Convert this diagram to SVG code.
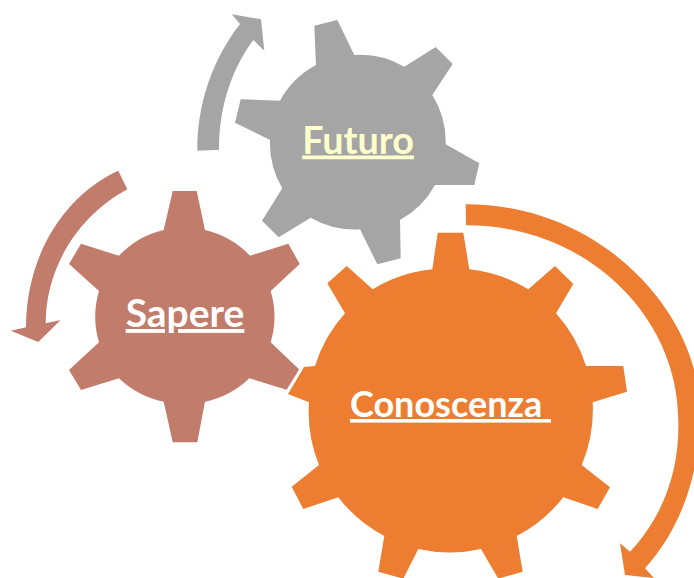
<svg xmlns="http://www.w3.org/2000/svg" width="694" height="578" viewBox="0 0 694 578">
<style>
.lbl{font-family:"Lato","Carlito","Liberation Sans",sans-serif;font-weight:700;text-anchor:middle;text-decoration:underline;text-decoration-thickness:3px;text-decoration-skip-ink:none;text-underline-offset:4px}
.grey{fill:#a5a5a5}.rose{fill:#c27c6c}.orange{fill:#ed7d31}
</style>
<rect width="694" height="578" fill="#fff"/>
<g id="connectors">
<path id="arrow-futuro" class="grey" d="M197.3 150.7C197 105 212 60 240 24L231.7 14.3L261 19.3L264.3 50.7L253.3 40C231 70 219 108 219 149.7Z"/>
<path id="arrow-sapere" class="rose" d="M118.3 170.7L127.3 189.3C80 215 46 265 45.7 323.3L60.7 320L38.3 342L10.7 330.7L26 327.3C26 255 65 195 118.3 170.7Z"/>
<path id="arrow-conoscenza" class="orange" d="M465.7 204.3C600 204 694 310 699 400C703 465 684 525 645 568.3L654 578L625 575L620 543.3L630 551.7C660 520 680 475 678.3 420C678 315 585 225 466 225.3Z"/>
</g>
<g id="node-futuro">
<path class="grey" d="M314.3 25.7L337.3 20L354.3 55A88 88 0 0 1 404.3 66.7L435.7 47L452.7 64L432.3 95A88 88 0 0 1 445.7 144.3L479.3 163.3L474.3 185L435 185A88 88 0 0 1 400 220L400.7 258.3L377.3 264.3L360 229.3A88 88 0 0 1 310.7 217.7L278.7 237.3L262 220.7L282.3 188.3A88 88 0 0 1 270 140L235 122.7L240.7 99.3L280 100.7A88 88 0 0 1 316 65Z"/>
<text class="lbl" x="358" y="153.5" font-size="37.7" fill="#ffffcc">Futuro</text>
</g>
<g id="node-sapere">
<path class="rose" d="M172.7 191L196.7 191L205 230A90 90 0 0 1 250 255.7L288.3 243.7L299.7 264L270.7 291A90 90 0 0 1 270.7 342.3L299.7 370L287.3 390L249.3 378.3A90 90 0 0 1 205 401.7L197.3 442.3L172.7 442.3L163.7 401.7A90 90 0 0 1 119 378.3L81 390L69 370L99 342.3A90 90 0 0 1 99 291L69 264L81 243.7L119 255.7A90 90 0 0 1 163.7 230Z"/>
<text class="lbl" x="185" y="327" font-size="39" fill="#fff">Sapere</text>
</g>
<g id="node-conoscenza">
<path class="orange" d="M437.7 232.7L463.3 232.7L469.3 269.3A142 142 0 0 1 528.3 289.3L555 266L573.3 284L556 313.3A142 142 0 0 1 586 366L623.3 366L627 391.7L592.7 402.3A142 142 0 0 1 581.7 465L610 487.3L597.7 509L563.3 497.3A142 142 0 0 1 516.7 536L522.7 571.7L498.3 578.7L481 549A142 142 0 0 1 418.3 549L403.3 578.7L378.3 571.7L384.3 536A142 142 0 0 1 338.3 497.3L303.3 509L291.7 486.7L319 465A142 142 0 0 1 309 402.3L288 394L304 367L315 366A142 142 0 0 1 345 313.3L327.3 283.3L346.7 266L372.7 289.3A142 142 0 0 1 432.3 269.3Z"/>
<path d="M302 367.5L287 392" fill="none" stroke="#fff" stroke-width="3"/>
<text class="lbl" x="450.5" y="417" font-size="36" fill="#fff" xml:space="preserve">Conoscenza </text>
</g>
</svg>
